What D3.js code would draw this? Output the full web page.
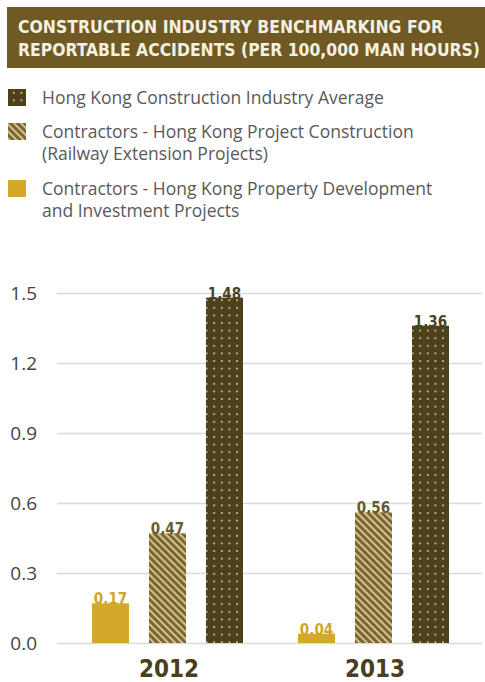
<!DOCTYPE html>
<html>
<head>
<meta charset="utf-8">
<script src="https://cdn.jsdelivr.net/npm/d3@7"></script>
<style>
  body { margin: 0; background: #fff; }
  svg { display: block; }
</style>
</head>
<body>
<script>
// chart values
var years = ["2012", "2013"];
var seriesKeys = ["property", "railway", "average"];
var propertyDev = [0.17, 0.04];
var railway = [0.47, 0.56];
var industryAvg = [1.48, 1.36];
var yTicks = [0, 0.3, 0.6, 0.9, 1.2, 1.5];
var titleLines = ["CONSTRUCTION INDUSTRY BENCHMARKING FOR", "REPORTABLE ACCIDENTS (PER 100,000 MAN HOURS)"];
var legendItems = [
  { key: "average", lines: ["Hong Kong Construction Industry Average"] },
  { key: "railway", lines: ["Contractors - Hong Kong Project Construction", "(Railway Extension Projects)"] },
  { key: "property", lines: ["Contractors - Hong Kong Property Development", "and Investment Projects"] }
];

var width = 485, height = 682;
var svg = d3.select("body").append("svg").attr("width", width).attr("height", height);

// patterns
var defs = svg.append("defs");
var hatch = defs.append("pattern")
  .attr("id", "hatch")
  .attr("patternUnits", "userSpaceOnUse")
  .attr("width", 5).attr("height", 5)
  .attr("patternTransform", "rotate(45)");
hatch.append("rect").attr("width", 5).attr("height", 5).attr("fill", "#7a6630");
hatch.append("rect").attr("width", 5).attr("height", 1.8).attr("fill", "#dccb98");

var dots = defs.append("pattern")
  .attr("id", "dots")
  .attr("patternUnits", "userSpaceOnUse")
  .attr("width", 7.6).attr("height", 7.6)
  .attr("x", 2);
dots.append("rect").attr("width", 7.6).attr("height", 7.6).attr("fill", "#4d411b");
dots.append("circle").attr("cx", 3.8).attr("cy", 3.8).attr("r", 1).attr("fill", "#d6cb9a");

var fills = { property: "#d4a92b", railway: "url(#hatch)", average: "url(#dots)" };
var labelColors = { property: "#d0a52a", railway: "#6a5a2c", average: "#4d4322" };

// title box
svg.append("rect")
  .attr("x", 7).attr("y", 7)
  .attr("width", width - 7).attr("height", 61)
  .attr("fill", "#6e5a22");
svg.selectAll("text.title")
  .data(titleLines)
  .enter().append("text")
  .attr("class", "title")
  .attr("x", 18)
  .attr("y", function(d, i) { return 33 + i * 23; })
  .attr("textLength", function(d, i) { return i == 0 ? 425 : 462; })
  .attr("lengthAdjust", "spacingAndGlyphs")
  .style("font-family", "'DejaVu Sans Condensed', 'DejaVu Sans', sans-serif")
  .style("font-weight", "bold")
  .style("font-size", "17px")
  .style("fill", "#f4f0e2")
  .text(function(d) { return d; });

// legend
var legendY = [89, 123, 180];
var legend = svg.selectAll("g.legend")
  .data(legendItems)
  .enter().append("g")
  .attr("class", "legend")
  .attr("transform", function(d, i) { return "translate(8," + legendY[i] + ")"; });
legend.append("rect")
  .attr("width", 18).attr("height", 17)
  .attr("fill", function(d) { return fills[d.key]; });
legend.each(function(d) {
  var g = d3.select(this);
  d.lines.forEach(function(line, j) {
    g.append("text")
      .attr("x", 34)
      .attr("y", 15 + j * 22)
      .style("font-family", "'Open Sans', sans-serif")
      .style("font-size", "17.5px")
      .style("fill", "#595959")
      .text(line);
  });
});

// scales
var y = d3.scaleLinear().domain([0, 1.5]).range([643, 293]);
var x0 = d3.scaleBand().domain(years).range([64, 476]);
var x1 = d3.scaleBand().domain(seriesKeys).range([28, 179]).paddingInner(0.35);

var chart = svg.append("g");

// grid + tick labels
var yAxis = d3.axisLeft(y)
  .tickValues(yTicks)
  .tickSize(-(482 - 57))
  .tickPadding(20)
  .tickFormat(d3.format(".1f"));
var axisG = chart.append("g")
  .attr("transform", "translate(57,0)")
  .call(yAxis);
axisG.select(".domain").remove();
axisG.selectAll(".tick line").attr("stroke", "#dadada").attr("stroke-width", 1.5);
axisG.selectAll(".tick text")
  .style("font-family", "'Open Sans', sans-serif")
  .style("font-size", "19px")
  .style("fill", "#444");

// bars
var rows = years.map(function(yr, i) {
  return { year: yr, values: [
    { key: "property", value: propertyDev[i] },
    { key: "railway", value: railway[i] },
    { key: "average", value: industryAvg[i] }
  ] };
});

var groups = chart.selectAll("g.year")
  .data(rows)
  .enter().append("g")
  .attr("class", "year")
  .attr("transform", function(d) { return "translate(" + x0(d.year) + ",0)"; });

groups.selectAll("rect")
  .data(function(d) { return d.values; })
  .enter().append("rect")
  .attr("x", function(d) { return x1(d.key); })
  .attr("y", function(d) { return y(d.value); })
  .attr("width", x1.bandwidth())
  .attr("height", function(d) { return y(0) - y(d.value); })
  .attr("fill", function(d) { return fills[d.key]; });

groups.selectAll("text.val")
  .data(function(d) { return d.values; })
  .enter().append("text")
  .attr("class", "val")
  .attr("x", function(d) { return x1(d.key) + x1.bandwidth() / 2; })
  .attr("y", function(d) { return y(d.value) + 1; })
  .attr("text-anchor", "middle")
  .style("font-family", "'DejaVu Sans Condensed', 'DejaVu Sans', sans-serif")
  .style("font-weight", "bold")
  .style("font-size", "15px")
  .style("fill", function(d) { return labelColors[d.key]; })
  .text(function(d) { return d3.format(".2f")(d.value); });

groups.append("text")
  .attr("x", function(d) { return x0.bandwidth() / 2 + 2; })
  .attr("y", 677)
  .attr("text-anchor", "middle")
  .style("font-family", "'DejaVu Sans Condensed', 'DejaVu Sans', sans-serif")
  .style("font-weight", "bold")
  .style("font-size", "24px")
  .style("fill", "#4a3f1c")
  .text(function(d) { return d.year; });
</script>
</body>
</html>
